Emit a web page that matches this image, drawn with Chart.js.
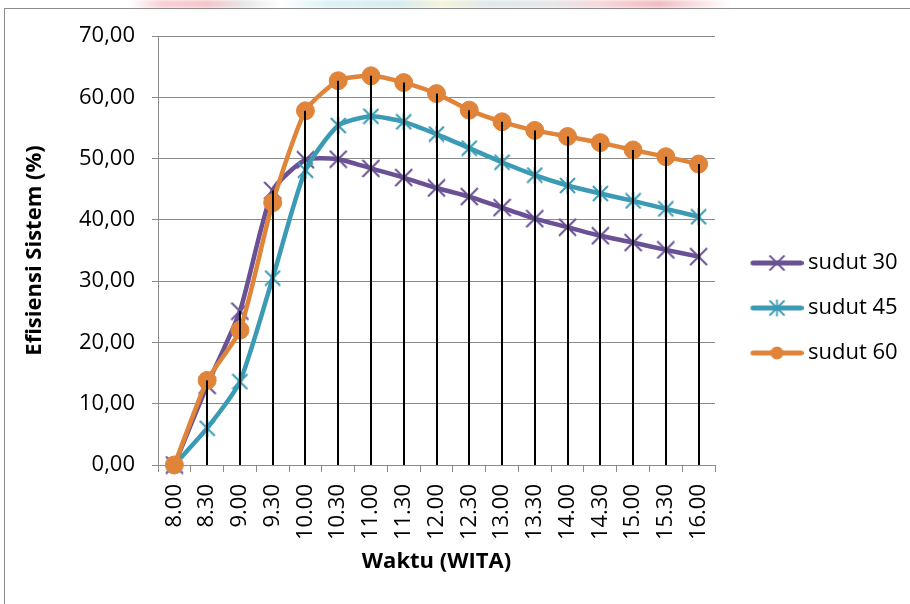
<!DOCTYPE html>
<html>
<head>
<meta charset="utf-8">
<script src="https://cdn.jsdelivr.net/npm/chart.js@4.4.1/dist/chart.umd.min.js"></script>
<style>
  html, body { margin: 0; padding: 0; background: #ffffff; }
  #wrap { position: relative; width: 910px; height: 604px; overflow: hidden; background: #ffffff; }
  #band {
    position: absolute; left: 130px; top: 0; width: 600px; height: 8px;
    background: linear-gradient(90deg,
      rgba(255,255,255,0) 0%, rgba(240,150,160,0.45) 5%, rgba(235,140,150,0.5) 13%,
      rgba(200,200,205,0.45) 19%, rgba(255,255,255,0) 25%, rgba(180,225,235,0.45) 33%,
      rgba(170,215,225,0.5) 45%, rgba(235,230,170,0.45) 52%, rgba(190,210,215,0.5) 60%,
      rgba(200,200,205,0.45) 70%, rgba(235,170,175,0.45) 78%, rgba(230,120,130,0.5) 88%,
      rgba(255,255,255,0) 100%);
    filter: blur(1.5px);
  }
  #frame {
    position: absolute; left: 4px; top: 8px; width: 1000px; height: 700px;
    border-left: 1px solid #8c8c8c; border-top: 1px solid #8c8c8c;
  }
  canvas { position: absolute; left: 0; top: 0; }
</style>
</head>
<body>
<div id="wrap">
  <div id="band"></div>
  <div id="frame"></div>
  <canvas id="chart" width="910" height="604"></canvas>
</div>
<script>
// Pengukuran efisiensi sistem per 30 menit
const categories = ['8.00', '8.30', '9.00', '9.30', '10.00', '10.30', '11.00', '11.30', '12.00',
  '12.30', '13.00', '13.30', '14.00', '14.30', '15.00', '15.30', '16.00'];
const seriesNames = ['sudut 30', 'sudut 45', 'sudut 60'];
const sudut30 = [0, 13.0, 25.1, 44.8, 49.8, 49.9, 48.4, 46.9, 45.2, 43.8, 42.0, 40.2, 38.8, 37.4, 36.3, 35.1, 34.0];
const sudut45 = [0, 6.0, 13.6, 30.5, 48.1, 55.4, 56.9, 56.0, 54.0, 51.7, 49.4, 47.3, 45.6, 44.3, 43.1, 41.8, 40.5];
const sudut60 = [0, 13.8, 22.0, 42.8, 57.8, 62.7, 63.5, 62.4, 60.6, 57.9, 56.0, 54.6, 53.6, 52.6, 51.4, 50.3, 49.1];
const yMin = 0, yMax = 70, yStep = 10;

const COLORS = ['#6a5195', '#3b9bb4', '#e0843a'];
const FONT = '"Open Sans", "DejaVu Sans", sans-serif';

// Marker shapes: X for sudut 30, X with a vertical bar for sudut 45
function markerCanvas(color, size, vertical) {
  const c = document.createElement('canvas');
  c.width = size; c.height = size;
  const g = c.getContext('2d');
  g.strokeStyle = color; g.lineWidth = 2; g.lineCap = 'butt';
  const m = 1;
  g.beginPath();
  g.moveTo(m, m); g.lineTo(size - m, size - m);
  g.moveTo(size - m, m); g.lineTo(m, size - m);
  if (vertical) { g.moveTo(size / 2, 0); g.lineTo(size / 2, size); }
  g.stroke();
  return c;
}

// Legend swatch: thick line with the series marker in the middle
function legendIcon(color, kind) {
  const w = 72, h = 20;
  const c = document.createElement('canvas');
  c.width = w; c.height = h;
  const g = c.getContext('2d');
  const x0 = 21.5, x1 = 69.5, cx = 45.5, cy = h / 2;
  g.strokeStyle = color; g.lineWidth = 5; g.lineCap = 'round';
  g.beginPath(); g.moveTo(x0, cy); g.lineTo(x1, cy); g.stroke();
  g.lineWidth = 1.8; g.lineCap = 'butt';
  if (kind === 'circle') {
    g.fillStyle = color;
    g.beginPath(); g.arc(cx, cy, 6.5, 0, Math.PI * 2); g.fill();
  } else {
    const r = 7.5;
    g.beginPath();
    g.moveTo(cx - r, cy - r); g.lineTo(cx + r, cy + r);
    g.moveTo(cx + r, cy - r); g.lineTo(cx - r, cy + r);
    if (kind === 'star') { g.moveTo(cx, cy - r - 1); g.lineTo(cx, cy + r + 1); }
    g.stroke();
  }
  return c;
}

const legendIcons = [
  legendIcon(COLORS[0], 'x'),
  legendIcon(COLORS[1], 'star'),
  legendIcon(COLORS[2], 'circle')
];

// Vertical drop lines from the highest point of each category down to the axis
const dropLines = {
  id: 'dropLines',
  afterDatasetsDraw(chart) {
    const { ctx, scales: { x, y } } = chart;
    ctx.save();
    ctx.strokeStyle = '#000000';
    ctx.lineWidth = 2;
    categories.forEach((_, i) => {
      const top = Math.max(...chart.data.datasets.map(d => d.data[i]));
      if (top <= yMin) return;
      const px = Math.round(x.getPixelForValue(i));
      ctx.beginPath();
      ctx.moveTo(px, y.getPixelForValue(top));
      ctx.lineTo(px, y.getPixelForValue(yMin));
      ctx.stroke();
    });
    ctx.restore();
  }
};

const PLOT_LEFT = 158, PLOT_RIGHT = 715, PLOT_BOTTOM = 465;

function makeDataset(i, values, pointStyle, radius) {
  return {
    label: seriesNames[i],
    data: values,
    borderColor: COLORS[i],
    backgroundColor: COLORS[i],
    borderWidth: 4.5,
    borderCapStyle: 'round',
    borderJoinStyle: 'round',
    tension: 0.2,
    pointStyle: pointStyle,
    pointRadius: radius,
    pointBorderWidth: 1,
    pointBackgroundColor: COLORS[i],
    pointBorderColor: COLORS[i],
    clip: false,
    order: 3 - i
  };
}

const chart = new Chart(document.getElementById('chart'), {
  type: 'line',
  data: {
    labels: categories,
    datasets: [
      makeDataset(0, sudut30, markerCanvas(COLORS[0], 19, false), 9),
      makeDataset(1, sudut45, markerCanvas(COLORS[1], 17, true), 9),
      makeDataset(2, sudut60, 'circle', 9)
    ]
  },
  options: {
    responsive: false,
    animation: false,
    events: [],
    layout: { padding: { left: 0, top: 36, right: 10, bottom: 24 } },
    plugins: {
      tooltip: { enabled: false },
      legend: {
        position: 'right',
        labels: {
          usePointStyle: true,
          pointStyleWidth: 59,
          padding: 23,
          color: '#000000',
          font: { family: FONT, size: 22 },
          generateLabels: (ch) => ch.data.datasets.map((ds, i) => ({
            text: ds.label,
            fillStyle: ds.borderColor,
            strokeStyle: ds.borderColor,
            lineWidth: 0,
            hidden: false,
            datasetIndex: i,
            pointStyle: legendIcons[i],
            fontColor: '#000000'
          }))
        }
      }
    },
    scales: {
      x: {
        type: 'category',
        offset: true,
        grid: {
          offset: true,
          drawOnChartArea: false,
          drawTicks: true,
          tickLength: 7,
          color: '#8a8a8a',
          lineWidth: 1
        },
        border: { display: true, color: '#8a8a8a', width: 1 },
        ticks: {
          autoSkip: false,
          minRotation: 90,
          maxRotation: 90,
          padding: 12,
          color: '#000000',
          font: { family: FONT, size: 22 }
        },
        title: {
          display: true,
          text: 'Waktu (WITA)',
          color: '#000000',
          font: { family: FONT, size: 22, weight: 'bold' },
          padding: { top: 0, bottom: 5 }
        },
        afterFit(scale) { scale.height = 604 - 24 - PLOT_BOTTOM; }
      },
      y: {
        min: yMin,
        max: yMax,
        grid: { color: '#8a8a8a', lineWidth: 1, tickLength: 6, drawTicks: true },
        border: { display: true, color: '#8a8a8a', width: 1 },
        ticks: {
          stepSize: yStep,
          padding: 17,
          color: '#000000',
          font: { family: FONT, size: 22 },
          callback: (v) => v.toFixed(2).replace('.', ',')
        },
        title: {
          display: true,
          text: 'Efisiensi Sistem (%)',
          color: '#000000',
          font: { family: FONT, size: 22, weight: 'bold' },
          padding: { top: 22, bottom: 0 }
        },
        afterFit(scale) { scale.width = PLOT_LEFT; }
      }
    }
  },
  plugins: [dropLines]
});

// Pin the plot's right edge next to the legend
const diff = chart.chartArea.right - PLOT_RIGHT;
if (Math.abs(diff) > 0.5) {
  chart.options.layout.padding.right += diff;
  chart.update('none');
}
</script>
</body>
</html>
